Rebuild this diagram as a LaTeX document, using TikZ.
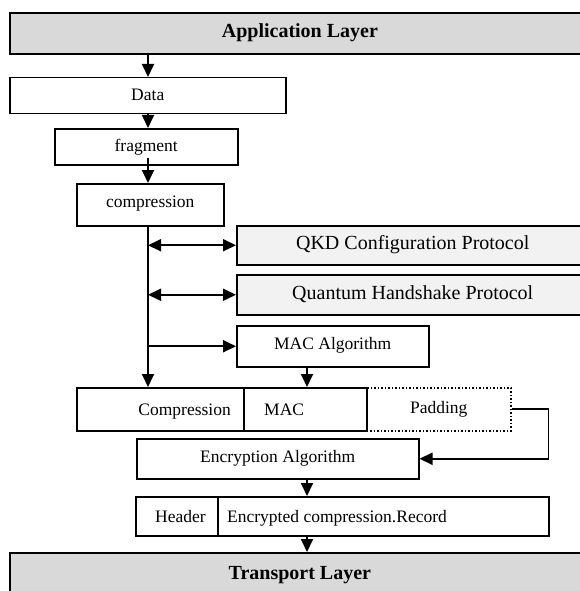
\documentclass[tikz,border=0pt]{standalone}
\usepackage{fontspec}
\setmainfont{Liberation Serif}
\usepackage{tikz}
\usepackage{xcolor}
\usetikzlibrary{arrows.meta,positioning}
\definecolor{layergray}{RGB}{217,217,217}
\definecolor{protogray}{RGB}{242,242,242}

\begin{document}
\begin{tikzpicture}[x=1pt,y=-1pt,
    box/.style={draw, line width=1.5pt, inner sep=0pt, anchor=north west,
        text height=0.75em, text depth=0pt, font=\fontsize{17.5}{20}\selectfont},
    layer/.style={box, fill=layergray, line width=1.8pt, text height=0.78em,
        font=\fontsize{20}{24}\selectfont\bfseries},
    proto/.style={box, fill=protogray, text height=0.85em, font=\fontsize{20}{24}\selectfont},
    txt/.style={inner sep=0pt, font=\fontsize{17.5}{20}\selectfont},
    arr/.style={line width=1.8pt, -{Triangle[length=13pt,width=12pt]}},
    darr/.style={line width=1.8pt, {Triangle[length=13pt,width=12pt]}-{Triangle[length=13pt,width=12pt]}}]
    \clip (0,0) rectangle (580,591);

    % Layers
    \node[layer, minimum width=580pt, minimum height=41pt] (app) at (9,12) {Application Layer};
    \node[layer, minimum width=580pt, minimum height=46pt] (transport) at (9,552) {Transport Layer};

    % Record preparation
    \node[box, text height=0.95em, minimum width=276pt, minimum height=36pt] (data) at (9,77) {Data};
    \node[box, text height=1em, minimum width=183pt, minimum height=36pt] (frag) at (54,128) {fragment};
    \node[box, text height=0.6em, minimum width=147pt, minimum height=42pt] (comp) at (76,183) {compression};

    % Protocols
    \node[proto, minimum width=352pt, minimum height=39pt] (qkd) at (236,225) {QKD Configuration Protocol};
    \node[proto, minimum width=352pt, minimum height=40pt] (hand) at (236,274) {Quantum Handshake Protocol};
    \node[box, text height=0.62em, minimum width=192pt, minimum height=41pt] (macalg) at (236,325) {MAC Algorithm};

    % Compression | MAC | Padding
    \node[box, minimum width=167pt, minimum height=43pt] (ccomp) at (76,387) {};
    \node[box, minimum width=123pt, minimum height=43pt] (cmac) at (243,387) {};
    \node[box, dotted, minimum width=144pt, minimum height=43pt] (cpad) at (366,387) {Padding};
    \node[txt, anchor=base east] (tcomp) at (231,415) {Compression};
    \node[txt, anchor=base west] (tmac) at (264,415) {MAC};

    % Encryption
    \node[box, minimum width=282pt, minimum height=40pt] (enc) at (136,438) {Encryption Algorithm};

    % Header | Record
    \node[box, minimum width=82pt, minimum height=39pt] (chead) at (135,496) {};
    \node[box, minimum width=331pt, minimum height=39pt] (crec) at (217,496) {};
    \node[txt, anchor=base west] (thead) at (155,522) {Header};
    \node[txt, anchor=base west] (trec) at (227,522) {Encrypted compression.Record};

    % Flow lines
    \coordinate (spine) at (148,0);
    \coordinate (mid) at (307,0);
    \draw[arr] (app.south -| spine) -- (data.north -| spine);
    \draw[arr] (data.south -| spine) -- (frag.north -| spine);
    \draw[arr] ([yshift=8pt]frag.south -| spine) -- (comp.north -| spine);
    \draw[arr] (comp.south -| spine) -- (ccomp.north -| spine);
    \draw[darr] (spine |- qkd.west) -- (qkd.west);
    \draw[darr] (spine |- hand.west) -- (hand.west);
    \draw[arr] (spine |- macalg.west) -- (macalg.west);
    \draw[arr] (macalg.south -| mid) -- (cmac.north -| mid);
    \draw[arr] (cpad.east) -- ++(37,0) |- (enc.east);
    \draw[arr] (enc.south -| mid) -- (crec.north -| mid);
    \draw[arr] (crec.south -| mid) -- (transport.north -| mid);
\end{tikzpicture}
\end{document}
